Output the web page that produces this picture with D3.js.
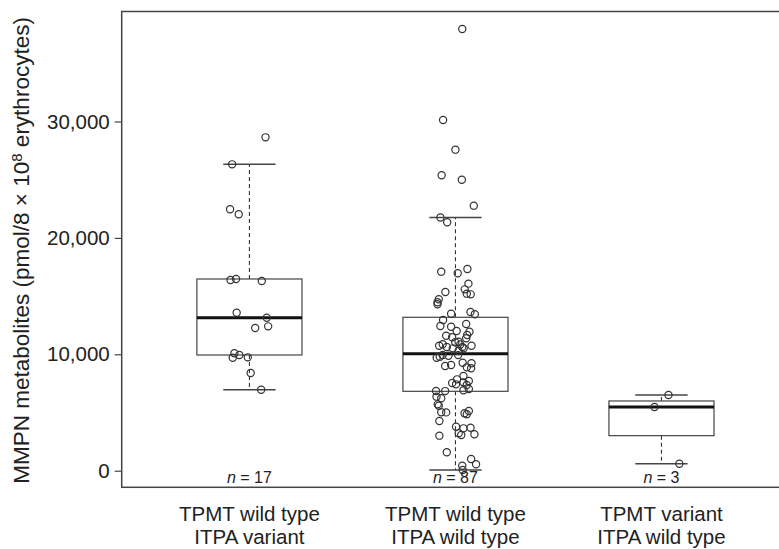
<!DOCTYPE html>
<html>
<head>
<meta charset="utf-8">
<script src="https://cdn.jsdelivr.net/npm/d3@7"></script>
<style>
  body { margin: 0; background: #fff; }
  svg { display: block; font-family: "Liberation Sans", Arial, Helvetica, sans-serif; }
</style>
</head>
<body>
<svg></svg>
<script>
// categories
let line1 = ["TPMT wild type", "TPMT wild type", "TPMT variant"];
let line2 = ["ITPA variant", "ITPA wild type", "ITPA wild type"];
let nCounts = [17, 87, 3];

// box stats
let whiskerLow = [6960, 50, 600];
let q1 = [9940, 6820, 3010];
let medians = [13150, 10050, 5470];
let q3 = [16470, 13180, 5990];
let whiskerHigh = [26320, 21750, 6500];

let yTicks = [0, 10000, 20000, 30000];

// group 1 (TPMT wt / ITPA variant)
let values1 = [28640, 26320, 22460, 22030, 16380, 16470, 16300, 13570, 13140, 12260, 12400,
  10090, 9710, 9940, 9740, 8390, 6960];
let jitter1 = [0.078, -0.084, -0.094, -0.052, -0.092, -0.065, 0.060, -0.062, 0.084, 0.028, 0.091,
  -0.073, -0.081, -0.049, -0.008, 0.006, 0.057];

// group 2 (TPMT wt / ITPA wt)
let values2 = [37950, 30130, 27580, 25380, 25000, 22770, 21750, 21340, 17100, 16960,
  17330, 16070, 15350, 15580, 15210, 15150, 14730, 14470, 14300, 13490,
  13630, 13440, 12950, 12430, 12370, 12000, 11940, 11660, 11600, 11460,
  11380, 11080, 10860, 11030, 10850, 10740, 10630, 10620, 10730, 10280,
  10520, 10510, 9710, 9790, 9940, 9880, 9930, 9000, 9080, 9280,
  9230, 8880, 8800, 8140, 7850, 7710, 7590, 7420, 7360, 6850,
  6840, 6910, 7020, 6360, 6220, 5700, 5580, 5020, 5010, 4930,
  5130, 4850, 4270, 3780, 3640, 3690, 3210, 3070, 3130, 3010,
  1580, 1010, 550, 430, 60, 12600, 7530];
let jitter2 = [0.033, -0.060, 0.000, -0.067, 0.031, 0.089, -0.073, -0.040, -0.069, 0.011,
  0.058, 0.063, -0.049, 0.045, 0.055, 0.074, -0.081, -0.087, -0.087, -0.021,
  0.073, 0.094, -0.060, -0.073, -0.021, 0.006, 0.068, 0.057, -0.045, -0.016,
  0.052, 0.015, -0.062, -0.001, 0.023, -0.079, -0.042, 0.033, 0.078, 0.015,
  0.040, -0.013, -0.091, -0.076, -0.062, -0.034, 0.013, -0.050, -0.021, 0.035,
  0.078, 0.055, 0.076, 0.039, 0.008, 0.065, 0.039, 0.003, 0.055, -0.094,
  -0.050, 0.039, 0.065, -0.092, -0.069, -0.086, -0.081, -0.069, -0.045, 0.044,
  0.065, 0.055, -0.078, 0.003, 0.039, 0.073, 0.016, 0.028, 0.092, -0.078,
  -0.042, 0.076, 0.100, 0.033, 0.035, 0.052, -0.016];

// group 3 (TPMT variant / ITPA wt)
let values3 = [6500, 5470, 600];
let jitter3 = [0.034, -0.034, 0.087];

let groupValues = [values1, values2, values3];
let groupJitter = [jitter1, jitter2, jitter3];

let width = 779;
let height = 549;
let plotLeft = 121.7;
let plotRight = 789.2;
let plotTop = 11.5;
let plotBottom = 487.3;

let svg = d3.select("svg").attr("width", width).attr("height", height);

let xScale = d3.scaleLinear().domain([0.38, 3.62]).range([plotLeft, plotRight]);
let yScale = d3.scaleLinear().domain([-1426, 39450]).range([plotBottom, plotTop]);

let boxHalf = 0.255;
let capHalf = 0.127;
let ink = "#333";

// frame
svg.append("rect")
   .attr("x", plotLeft)
   .attr("y", plotTop)
   .attr("width", plotRight - plotLeft)
   .attr("height", plotBottom - plotTop)
   .attr("fill", "none")
   .attr("stroke", "#444")
   .attr("stroke-width", 1.5);

// y axis
let yAxis = d3.axisLeft(yScale)
              .tickValues(yTicks)
              .tickFormat(d3.format(","))
              .tickSize(7)
              .tickPadding(5);

let yG = svg.append("g")
            .attr("transform", "translate(" + plotLeft + ",0)")
            .call(yAxis);
yG.select(".domain").remove();
yG.selectAll(".tick line").attr("stroke", "#444").attr("stroke-width", 1.2);
yG.selectAll(".tick text")
  .attr("fill", "#222")
  .style("font-size", "20.5px")
  .style("font-family", "'Liberation Sans', Arial, sans-serif");

// y title
let title = svg.append("text")
   .attr("transform", "translate(29," + ((plotTop + plotBottom) / 2 + 1) + ") rotate(-90)")
   .attr("text-anchor", "middle")
   .attr("fill", "#222")
   .style("font-size", "22.5px");
title.append("tspan").text("MMPN metabolites (pmol/8 \u00d7 10");
title.append("tspan").attr("dy", "-0.45em").style("font-size", "15px").text("8");
title.append("tspan").attr("dy", "0.3em").text(" erythrocytes)");

let idx = [0, 1, 2];

// whiskers (dashed)
svg.selectAll(".whiskerUp")
   .data(idx).enter().append("line")
   .attr("x1", d => xScale(d + 1)).attr("x2", d => xScale(d + 1))
   .attr("y1", d => yScale(q3[d])).attr("y2", d => yScale(whiskerHigh[d]))
   .attr("stroke", ink).attr("stroke-width", 1.1).attr("stroke-dasharray", "4,3");

svg.selectAll(".whiskerDown")
   .data(idx).enter().append("line")
   .attr("x1", d => xScale(d + 1)).attr("x2", d => xScale(d + 1))
   .attr("y1", d => yScale(q1[d])).attr("y2", d => yScale(whiskerLow[d]))
   .attr("stroke", ink).attr("stroke-width", 1.1).attr("stroke-dasharray", "4,3");

// caps
svg.selectAll(".capHigh")
   .data(idx).enter().append("line")
   .attr("x1", d => xScale(d + 1 - capHalf)).attr("x2", d => xScale(d + 1 + capHalf))
   .attr("y1", d => yScale(whiskerHigh[d])).attr("y2", d => yScale(whiskerHigh[d]))
   .attr("stroke", "#444").attr("stroke-width", 1.5);

svg.selectAll(".capLow")
   .data(idx).enter().append("line")
   .attr("x1", d => xScale(d + 1 - capHalf)).attr("x2", d => xScale(d + 1 + capHalf))
   .attr("y1", d => yScale(whiskerLow[d])).attr("y2", d => yScale(whiskerLow[d]))
   .attr("stroke", "#444").attr("stroke-width", 1.5);

// boxes
svg.selectAll(".box")
   .data(idx).enter().append("rect")
   .attr("x", d => xScale(d + 1 - boxHalf))
   .attr("width", d => xScale(d + 1 + boxHalf) - xScale(d + 1 - boxHalf))
   .attr("y", d => yScale(q3[d]))
   .attr("height", d => yScale(q1[d]) - yScale(q3[d]))
   .attr("fill", "none")
   .attr("stroke", "#444")
   .attr("stroke-width", 1.2);

// medians
svg.selectAll(".median")
   .data(idx).enter().append("line")
   .attr("x1", d => xScale(d + 1 - boxHalf)).attr("x2", d => xScale(d + 1 + boxHalf))
   .attr("y1", d => yScale(medians[d])).attr("y2", d => yScale(medians[d]))
   .attr("stroke", "#111").attr("stroke-width", 3);

// points
idx.forEach(g => {
    svg.append("g").selectAll("circle")
       .data(groupValues[g]).enter().append("circle")
       .attr("cx", (v, i) => xScale(g + 1 + groupJitter[g][i]))
       .attr("cy", v => yScale(v))
       .attr("r", 3.6)
       .attr("fill", "none")
       .attr("stroke", ink)
       .attr("stroke-width", 1.2);
});

// n labels
let nText = svg.selectAll(".nLabel")
   .data(idx).enter().append("text")
   .attr("x", d => xScale(d + 1))
   .attr("y", plotBottom - 4)
   .attr("text-anchor", "middle")
   .attr("fill", "#222")
   .style("font-size", "16px");
nText.append("tspan").style("font-style", "italic").text("n");
nText.append("tspan").text(d => " = " + nCounts[d]);

// category labels
svg.selectAll(".cat1")
   .data(idx).enter().append("text")
   .attr("x", d => xScale(d + 1))
   .attr("y", 521)
   .attr("text-anchor", "middle")
   .attr("fill", "#222")
   .style("font-size", "20.5px")
   .text(d => line1[d]);

svg.selectAll(".cat2")
   .data(idx).enter().append("text")
   .attr("x", d => xScale(d + 1))
   .attr("y", 544)
   .attr("text-anchor", "middle")
   .attr("fill", "#222")
   .style("font-size", "20.5px")
   .text(d => line2[d]);
</script>
</body>
</html>
